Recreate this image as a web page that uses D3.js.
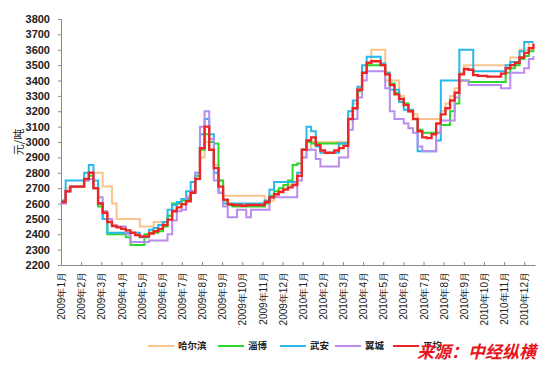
<!DOCTYPE html>
<html>
<head>
<meta charset="utf-8">
<script src="https://cdn.jsdelivr.net/npm/d3@7"></script>
<style>
  html, body { margin: 0; padding: 0; background: #fff; }
  svg { display: block; }
</style>
</head>
<body>
<div id="chart"></div>
<script>
// 五地生铁周价格 2009-2010，阶梯线

const monthLabels = [
  "2009年1月", "2009年2月", "2009年3月", "2009年4月", "2009年5月", "2009年6月",
  "2009年7月", "2009年8月", "2009年9月", "2009年10月", "2009年11月", "2009年12月",
  "2010年1月", "2010年2月", "2010年3月", "2010年4月", "2010年5月", "2010年6月",
  "2010年7月", "2010年8月", "2010年9月", "2010年10月", "2010年11月", "2010年12月"
];
const yTicks = [2200, 2300, 2400, 2500, 2600, 2700, 2800, 2900, 3000, 3100, 3200, 3300, 3400, 3500, 3600, 3700, 3800];

// weekly values, week 0 = first week of Jan 2009
const harbin = [
  2620, 2700, 2710, 2710, 2710, 2760, 2800, 2800, 2800, 2710,
  2710, 2600, 2500, 2500, 2500, 2500, 2500, 2450, 2450, 2450,
  2480, 2480, 2480, 2520, 2560, 2600, 2620, 2650, 2680, 2760,
  2900, 3000, 2950, 2850, 2750, 2650, 2650, 2650, 2650, 2650,
  2650, 2650, 2650, 2650, 2600, 2620, 2650, 2680, 2700, 2720,
  2730, 2800, 2900, 2950, 3000, 3000, 3000, 3000, 3000, 3000,
  3000, 3000, 3150, 3250, 3350, 3450, 3500, 3600, 3600, 3600,
  3400, 3400, 3400, 3300, 3250, 3200, 3180, 3150, 3150, 3150,
  3150, 3150, 3200, 3250, 3300, 3350, 3450, 3500, 3500, 3500,
  3500, 3500, 3500, 3500, 3500, 3500, 3500, 3550, 3550, 3600,
  3600, 3650, 3650
];
const zibo = [
  2610, 2680, 2710, 2710, 2710, 2750, 2780, 2700, 2580, 2500,
  2400, 2400, 2400, 2400, 2380, 2330, 2330, 2330, 2400, 2410,
  2410, 2420, 2450, 2520, 2600, 2600, 2620, 2630, 2680, 2780,
  2950, 3050, 3000, 2990, 2750, 2620, 2590, 2580, 2580, 2580,
  2580, 2580, 2580, 2580, 2600, 2650, 2680, 2700, 2720, 2750,
  2850, 2860, 2950, 3000, 2990, 2990, 2990, 2990, 2990, 2990,
  2990, 2990, 3150, 3220, 3330, 3450, 3500, 3500, 3500, 3500,
  3450, 3380, 3320, 3280, 3250, 3200, 3150, 3080, 3060, 3060,
  3060, 3060, 3110, 3110, 3200, 3250, 3400, 3400, 3390, 3390,
  3390, 3390, 3390, 3390, 3390, 3390, 3450, 3480, 3500, 3540,
  3560, 3590, 3600
];
const wuan = [
  2620, 2750, 2750, 2750, 2750, 2800, 2850, 2750, 2600, 2500,
  2410, 2410, 2410, 2410, 2410, 2410, 2410, 2380, 2380, 2430,
  2440, 2460, 2480, 2560, 2590, 2610, 2630, 2680, 2740, 2800,
  3050, 3150, 3050, 2800, 2670, 2600, 2600, 2600, 2600, 2600,
  2600, 2600, 2600, 2600, 2620, 2690, 2740, 2740, 2740, 2740,
  2740, 2800, 2950, 3100, 3070, 2970, 2930, 2930, 2930, 2930,
  2990, 2990, 3200, 3270, 3360, 3500, 3555, 3555, 3555, 3510,
  3450, 3340, 3340, 3260, 3210, 3210, 3150, 2940, 2940, 2940,
  2940, 3010, 3400, 3400, 3400, 3400, 3600, 3600, 3600, 3460,
  3460, 3460, 3460, 3460, 3460, 3460, 3500, 3520, 3520, 3590,
  3650, 3650, 3650
];
const yicheng = [
  2600, 2680, 2710, 2710, 2710, 2750, 2760, 2700, 2640, 2550,
  2500, 2450, 2450, 2450, 2400, 2350, 2350, 2350, 2350, 2360,
  2360, 2360, 2360, 2400, 2490, 2550, 2560, 2640, 2680, 2800,
  3100, 3200, 3020, 2750, 2670, 2580, 2510, 2510, 2560, 2560,
  2510, 2560, 2560, 2560, 2560, 2640, 2640, 2640, 2640, 2640,
  2640, 2750, 2900, 2950, 2950, 2890, 2840, 2840, 2840, 2840,
  2900, 2900, 3080, 3150, 3290, 3400, 3460, 3460, 3460, 3460,
  3350, 3200, 3150, 3150, 3120, 3090, 3060, 2970, 2940, 2940,
  2940, 3060, 3140, 3140, 3140, 3290, 3400, 3400, 3370, 3370,
  3370, 3370, 3370, 3370, 3370, 3350, 3350, 3450, 3450, 3450,
  3480, 3540, 3560
];
const average = [
  2610, 2680, 2710, 2710, 2710, 2760, 2800, 2700, 2600, 2540,
  2480, 2455, 2445, 2435, 2425, 2410, 2395, 2385, 2385, 2405,
  2420, 2435, 2460, 2495, 2550, 2575, 2595, 2615, 2670, 2760,
  2960, 3100, 2950, 2830, 2710, 2625, 2595, 2590, 2590, 2585,
  2590, 2590, 2590, 2590, 2610, 2640, 2660, 2675, 2690, 2705,
  2720, 2780, 2950, 3010, 3030, 2980, 2945, 2930, 2930, 2945,
  2960, 2975, 3150, 3220, 3340, 3450, 3515, 3525, 3525, 3500,
  3440, 3370, 3310, 3280, 3240, 3200, 3150, 3070, 3030, 3025,
  3050, 3120, 3180, 3220, 3270, 3320, 3440, 3475, 3470, 3435,
  3430, 3430, 3425, 3425, 3425, 3445, 3480, 3500, 3515, 3550,
  3580, 3610, 3640
];

const seriesNames = ["哈尔滨", "淄博", "武安", "翼城", "平均"];
const seriesColors = ["#f9c48e", "#2ad82a", "#28b8ea", "#b98cee", "#ec2626"];
const seriesValues = [harbin, zibo, wuan, yicheng, average];

const W = 543, H = 366;
const plotLeft = 61, plotRight = 535, plotTop = 19, plotBottom = 265;
const weekInMonths = 7 / 30.4375;

const svg = d3.select("#chart").append("svg")
  .attr("width", W)
  .attr("height", H)
  .style("font-family", "'Liberation Sans', 'Noto Sans CJK SC', sans-serif");

const x = d3.scaleLinear().domain([0, 23.535]).range([plotLeft, plotRight]);
const y = d3.scaleLinear().domain([2200, 3800]).range([plotBottom, plotTop]);

// ── Axes ──
const yAxis = svg.append("g")
  .attr("transform", `translate(${plotLeft},0)`)
  .call(d3.axisLeft(y)
    .tickValues(yTicks)
    .tickFormat(d3.format("d"))
    .tickSize(3)
    .tickPadding(8));
yAxis.select(".domain").attr("stroke", "#8a8a8a");
yAxis.selectAll(".tick line").attr("stroke", "#8a8a8a");
yAxis.selectAll(".tick text")
  .attr("fill", "#222")
  .style("font-size", "11px")
  .style("font-weight", "bold");

const xAxis = svg.append("g")
  .attr("transform", `translate(0,${plotBottom})`)
  .call(d3.axisBottom(x)
    .tickValues(d3.range(monthLabels.length))
    .tickFormat(i => monthLabels[i])
    .tickSizeInner(-3)
    .tickSizeOuter(0));
xAxis.select(".domain").attr("stroke", "#8a8a8a");
xAxis.selectAll(".tick line").attr("stroke", "#8a8a8a");
xAxis.selectAll(".tick text")
  .attr("fill", "#222")
  .style("font-size", "10px")
  .attr("text-anchor", "end")
  .attr("transform", "rotate(-90)")
  .attr("x", -7)
  .attr("y", 0)
  .attr("dy", "0.36em");

svg.append("text")
  .attr("transform", `translate(19,${(plotTop + plotBottom) / 2}) rotate(-90)`)
  .attr("text-anchor", "middle")
  .attr("dy", "0.35em")
  .style("font-size", "11px")
  .style("font-family", "'Noto Sans CJK SC', sans-serif")
  .attr("fill", "#222")
  .text("元/吨");

// ── Lines ──
const line = d3.line()
  .x((d, i) => x(i * weekInMonths))
  .y(d => y(d))
  .curve(d3.curveStepAfter);

svg.append("g")
  .selectAll("path")
  .data(seriesValues)
  .join("path")
  .attr("d", d => line(d))
  .attr("fill", "none")
  .attr("stroke", (d, i) => seriesColors[i])
  .attr("stroke-width", (d, i) => i === 4 ? 2.4 : 2)
  .attr("stroke-linejoin", "miter");

// ── Legend ──
const legendX = [148, 218, 280, 335, 393];
const legend = svg.append("g")
  .selectAll("g")
  .data(seriesNames)
  .join("g")
  .attr("transform", (d, i) => `translate(${legendX[i]},346)`);

legend.append("line")
  .attr("x1", 0).attr("x2", 26)
  .attr("stroke", (d, i) => seriesColors[i])
  .attr("stroke-width", 2);

legend.append("text")
  .attr("x", 30)
  .attr("dy", "0.35em")
  .style("font-size", "9.5px")
  .style("font-weight", "bold")
  .style("font-family", "'Noto Sans CJK SC', sans-serif")
  .attr("fill", "#222")
  .text(d => d);

// watermark, drawn over the last legend entry as in the source image
svg.append("text")
  .attr("x", 417)
  .attr("y", 358)
  .style("font-size", "17px")
  .style("font-weight", "bold")
  .style("font-style", "italic")
  .style("font-family", "'Noto Sans CJK SC', sans-serif")
  .attr("fill", "#e8141c")
  .text("来源：中经纵横");
</script>
</body>
</html>
